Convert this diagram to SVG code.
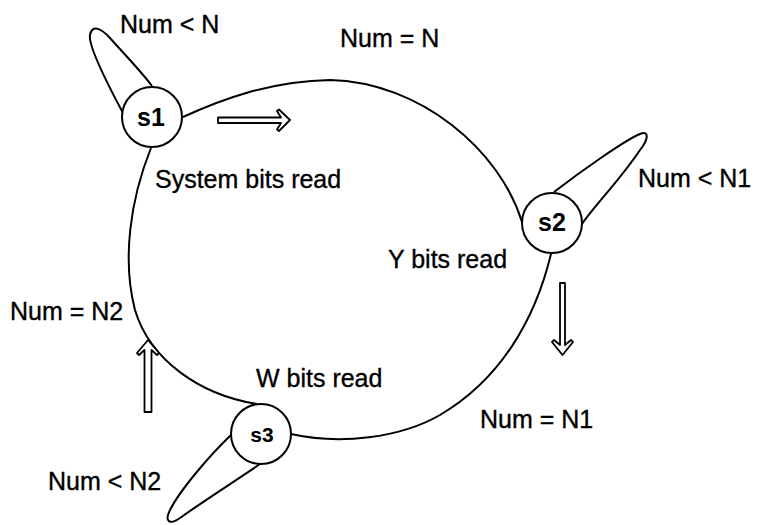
<svg xmlns="http://www.w3.org/2000/svg" width="757" height="525" viewBox="0 0 757 525">
  <style>
    .edge { fill: none; stroke: #000; stroke-width: 2; }
    .state { fill: #fff; stroke: #000; stroke-width: 2; }
    .sid { font-family: "Liberation Sans", Arial, sans-serif; font-weight: bold; text-anchor: middle; fill: #000; }
    .lbl { font-family: "Liberation Sans", Arial, sans-serif; font-size: 25px; fill: #000; stroke: #000; stroke-width: 0.35; }
    .flow { fill: #fff; stroke: #000; stroke-width: 1.8; stroke-linejoin: round; }
  </style>
  <rect width="757" height="525" fill="#fff"/>

  <!-- transitions between the states and the self-loops -->
  <g id="connectors">
    <path class="edge" d="M183,117 C220,100 270,81 330,80 C420,82 500,150 522,222"/>
    <path class="edge" d="M551,254 C535,320 500,380 440,415 C400,438 340,445 291,434"/>
    <path class="edge" d="M257,404 C200,395 150,360 135,310 C122,260 130,200 151,148"/>
    <path class="edge" d="M123,113 C108,85 88,45 90,35 C92,25 100,27 110,38 C125,55 140,70 152,86"/>
    <path class="edge" d="M554,192 C580,172 625,140 640,134 C650,130 648,140 640,150 C620,180 595,205 582,224"/>
    <path class="edge" d="M231,435 C210,455 180,490 170,510 C164,522 170,525 180,518 C205,500 240,478 260,464"/>
  </g>

  <!-- hollow direction arrows -->
  <g id="direction-arrows">
    <path class="flow" d="M218,117.5 L281,117.5 L277,111 L279,109.5 L290,120 L279,131 L277,129.5 L281,123 L218,123 Z"/>
    <path class="flow" d="M560,283 L565,283 L565,345 L571,340 L573,342 L562.5,355 L552,342 L554,340 L560,345 Z"/>
    <path class="flow" d="M144.5,412 L151.5,412 L151.5,350 L157,355 L159,353 L148,340 L137,353 L139,355 L144.5,350 Z"/>
  </g>

  <g id="s1">
    <circle class="state" cx="152" cy="117" r="30"/>
    <text class="sid" x="151" y="126" font-size="25">s1</text>
  </g>
  <g id="s2">
    <circle class="state" cx="552" cy="223" r="30"/>
    <text class="sid" x="552" y="231" font-size="25">s2</text>
  </g>
  <g id="s3">
    <circle class="state" cx="261" cy="434" r="30"/>
    <text class="sid" x="262" y="442" font-size="21">s3</text>
  </g>

  <g id="labels">
    <text class="lbl" x="120" y="33">Num &lt; N</text>
    <text class="lbl" x="340" y="47">Num = N</text>
    <text class="lbl" x="155" y="188">System bits read</text>
    <text class="lbl" x="638" y="187">Num &lt; N1</text>
    <text class="lbl" x="388" y="268">Y bits read</text>
    <text class="lbl" x="10" y="320">Num = N2</text>
    <text class="lbl" x="256" y="387">W bits read</text>
    <text class="lbl" x="480" y="428">Num = N1</text>
    <text class="lbl" x="48" y="490">Num &lt; N2</text>
  </g>
</svg>
